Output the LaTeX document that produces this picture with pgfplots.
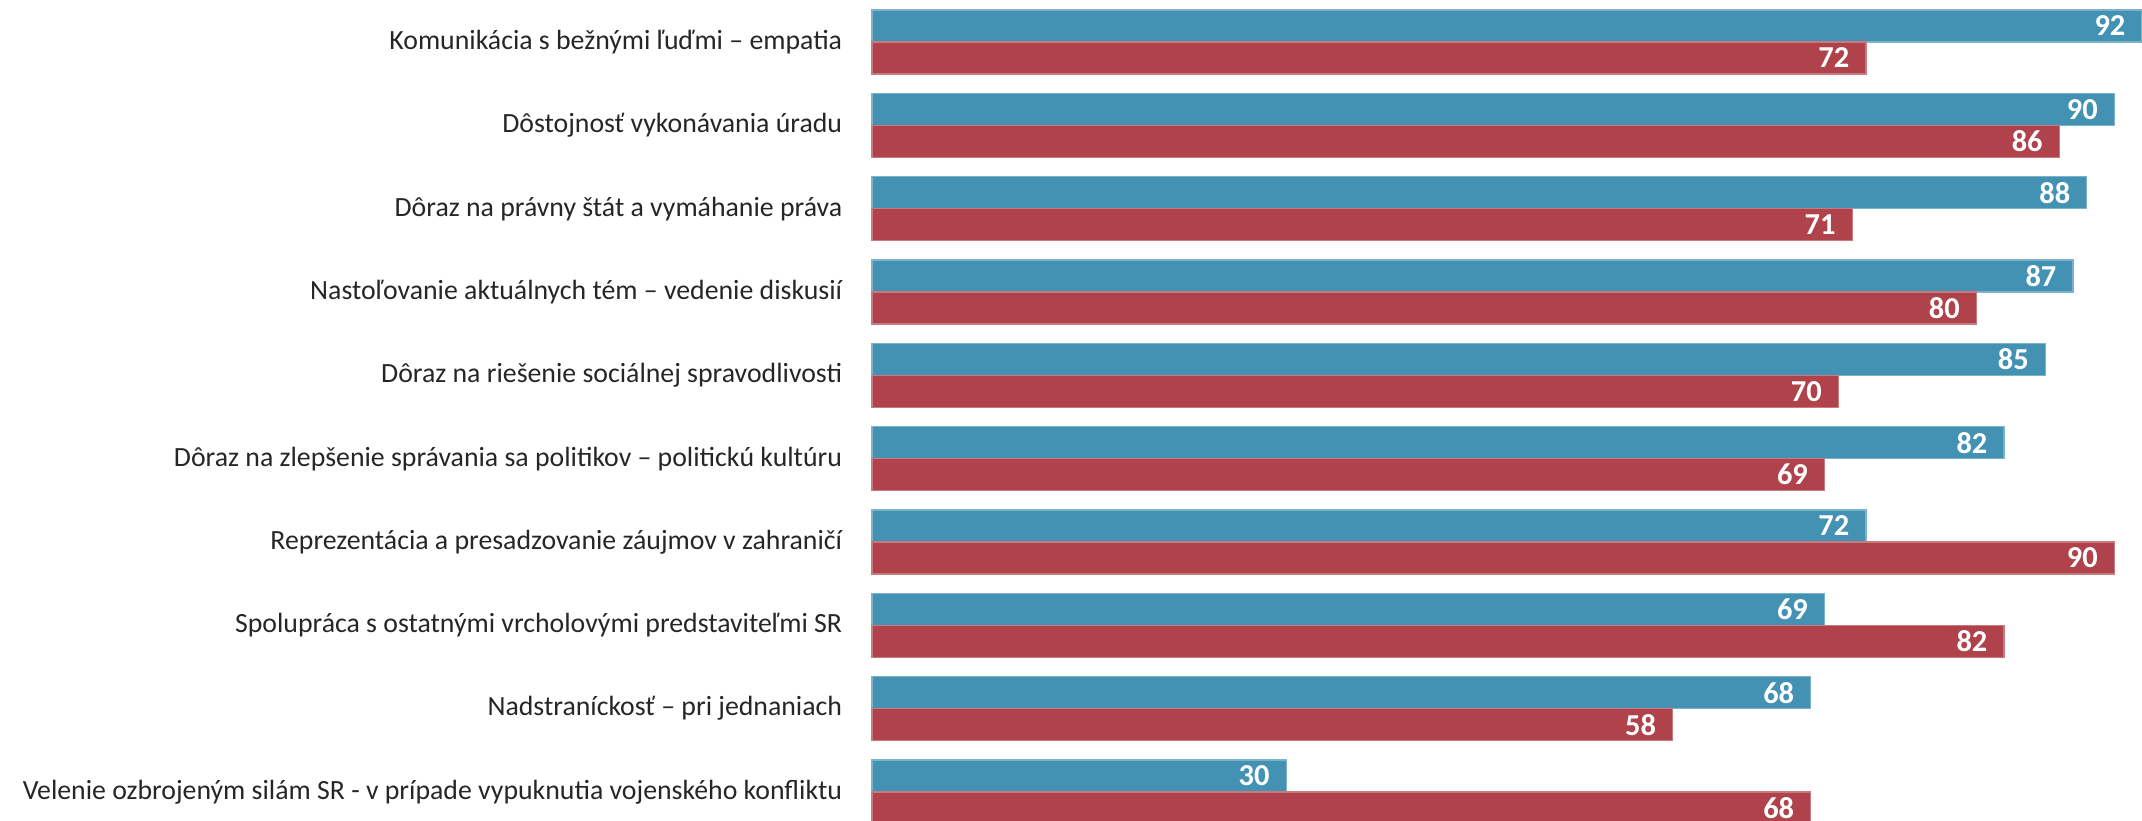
\documentclass[border=0pt]{standalone}
\usepackage{pgfplots}
\pgfplotsset{compat=1.18}
\usepackage{fontspec}
\setmainfont{Carlito}
\definecolor{barblue}{RGB}{67,146,180}
\definecolor{barred}{RGB}{175,66,74}
\definecolor{labelgray}{RGB}{38,38,38}
\begin{document}
\begin{tikzpicture}
\begin{axis}[
  at={(0,0)}, anchor=south west,
  scale only axis, width=317.5pt, height=205.25pt,
  xbar, bar width=8pt,
  xmin=0, xmax=92,
  ymin=-0.348, ymax=9.504,
  xtick=\empty,
  ytick={0,...,9},
  yticklabels={
    Velenie ozbrojeným silám SR - v prípade vypuknutia vojenského konfliktu,
    Nadstraníckosť – pri jednaniach,
    Spolupráca s ostatnými vrcholovými predstaviteľmi SR,
    Reprezentácia a presadzovanie záujmov v zahraničí,
    Dôraz na zlepšenie správania sa politikov – politickú kultúru,
    Dôraz na riešenie sociálnej spravodlivosti,
    Nastoľovanie aktuálnych tém – vedenie diskusií,
    Dôraz na právny štát a vymáhanie práva,
    Dôstojnosť vykonávania úradu,
    Komunikácia s bežnými ľuďmi – empatia},
  yticklabel style={font=\fontsize{6.95}{7.5}\selectfont, text=labelgray, inner sep=0pt, xshift=-3pt},
  axis line style={draw=none},
  tick style={draw=none},
  clip=false,
  /pgf/number format/assume math mode=true,
  nodes near coords,
  every node near coord/.append style={anchor=east, inner sep=0pt, xshift=-4pt,
    text=white, font=\fontsize{7.6}{8}\selectfont\bfseries},
]
\addplot[fill=barblue, draw=barblue!70!white, line width=0.3pt, bar shift=4pt]
  coordinates {(30,0) (68,1) (69,2) (72,3) (82,4) (85,5) (87,6) (88,7) (90,8) (92,9)};
\addplot[fill=barred, draw=barred!70!white, line width=0.3pt, bar shift=-4pt]
  coordinates {(68,0) (58,1) (82,2) (90,3) (69,4) (70,5) (80,6) (71,7) (86,8) (72,9)};
\end{axis}
\pgfresetboundingbox
\path[use as bounding box] (-218pt,0) rectangle (317.5pt,205.25pt);
\end{tikzpicture}
\end{document}
